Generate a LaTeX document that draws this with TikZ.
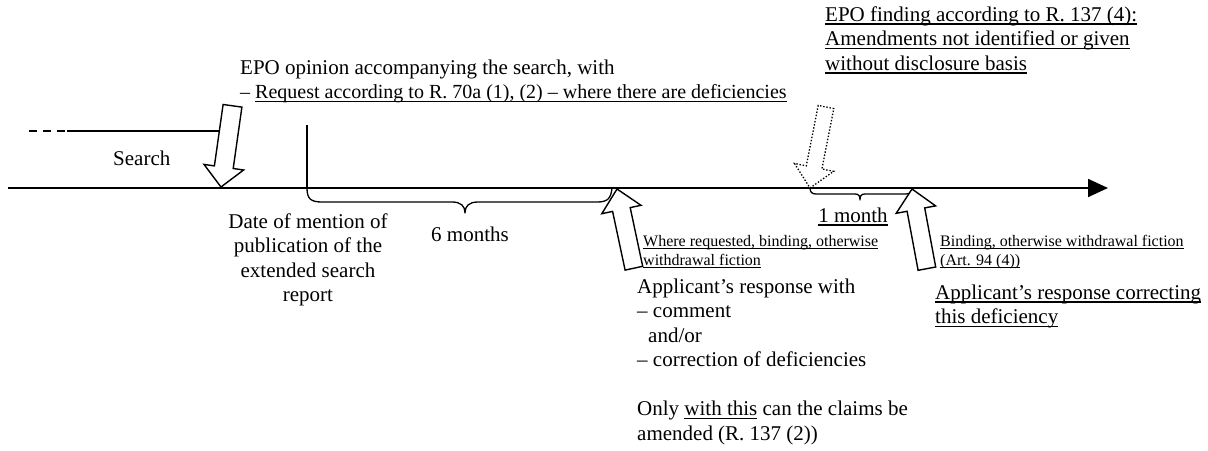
\documentclass[tikz,border=0pt]{standalone}
\usepackage{fontspec}
\setmainfont{Liberation Serif}
\newsavebox\myulbox
\newcommand\myul[1]{\leavevmode\sbox\myulbox{#1}\rlap{\rule[-0.17em]{\wd\myulbox}{0.06em}}\usebox\myulbox}
\usetikzlibrary{arrows.meta}
\tikzset{
  txt/.style={inner sep=0pt, anchor=base west, font=\fontsize{21}{24.5}\selectfont},
  smalltxt/.style={inner sep=0pt, anchor=base west, font=\fontsize{16}{19}\selectfont},
  blockarrow/.style={draw, fill=white, line width=1.4pt, line join=miter},
  dotarrow/.style={draw, fill=white, line width=1.3pt, dash pattern=on 1.4pt off 1.8pt},
  timeline/.style={line width=1.7pt},
  thinline/.style={line width=1.2pt},
  bracket/.style={line width=1.3pt, line join=round},
}
\begin{document}
\begin{tikzpicture}[x=1pt, y=-1pt]
\useasboundingbox (0,0) rectangle (1208,450);

% coordinates
\coordinate (tlstart) at (8,188);
\coordinate (tlmid) at (60,188);
\coordinate (tlend) at (1108,188);
\coordinate (dashA) at (29,131);
\coordinate (dashB) at (67,131);
\coordinate (srchEnd) at (226,131);
\coordinate (vtop) at (307,125);
\coordinate (vbot) at (307,188);

% timeline
\draw[thinline] (tlstart) -- (tlmid);
\draw[timeline, -{Triangle[length=20pt, width=18pt]}] (tlmid) -- (tlend);

% search band
\draw[thinline, dash pattern=on 8pt off 6pt] (dashA) -- (dashB);
\draw[thinline] (dashB) -- (srchEnd);
\draw[thinline] (vtop) -- (vbot);

% braces
\draw[bracket] (307,188) .. controls (307,199) and (311,202) .. (322,202) -- (452,202)
  .. controls (461,202) and (465,206) .. (465,213)
  .. controls (465,206) and (469,202) .. (478,202) -- (597,202)
  .. controls (607,202) and (611,199) .. (612,188);
\draw[bracket] (810,188) .. controls (810,192) and (812,194) .. (816,194) -- (855,194)
  .. controls (859,194) and (860,196) .. (860,200)
  .. controls (860,196) and (861,194) .. (865,194) -- (906,194)
  .. controls (910,194) and (912,192) .. (912,188);

% block arrows
\draw[blockarrow] (221,187) -- (243.6,170.0) -- (233.2,168.5) -- (241.9,107.1)
  -- (223.1,104.5) -- (214.4,165.9) -- (204.0,164.4) -- cycle;
\draw[blockarrow] (617,189) -- (641,205.3) -- (630.2,207.6) -- (642.7,266.3)
  -- (625.1,270.1) -- (612.6,211.4) -- (601.8,213.7) -- cycle;
\draw[blockarrow] (912,189) -- (935.6,205.9) -- (924.7,207.9) -- (935.7,267)
  -- (918.1,270.3) -- (907.1,211.3) -- (896.2,213.3) -- cycle;
\draw[dotarrow] (810,188) -- (833.7,171.3) -- (821.9,169) -- (833.8,108.6)
  -- (818.2,105.4) -- (806.3,165.8) -- (794.5,163.5) -- cycle;

% texts
\node[txt] (epoop) at (240,74) {EPO opinion accompanying the search, with};
\node[txt, font=\fontsize{20}{24.5}\selectfont] (req) at (240,98.5) {– \myul{Request according to R. 70a (1), (2) – where there are deficiencies}};
\node[txt] (finding) at (825,21) {\parbox[t]{380pt}{\myul{EPO finding according to R. 137 (4):}\\\myul{Amendments not identified or given}\\\myul{without disclosure basis}}};
\node[txt] (search) at (113,165) {Search};
\node[txt, anchor=base] (date) at (308,228) {\parbox[t]{200pt}{\centering Date of mention of\\publication of the\\extended search\\report}};
\node[txt, anchor=base] (sixm) at (470,241) {6 months};
\node[txt, anchor=base] (onem) at (853,222) {\myul{1 month}};
\node[smalltxt] (where) at (643,246.5) {\parbox[t]{260pt}{\myul{Where requested, binding, otherwise}\\\myul{withdrawal fiction}}};
\node[smalltxt] (binding) at (940,246.5) {\parbox[t]{260pt}{\myul{Binding, otherwise withdrawal fiction}\\\myul{(Art. 94 (4))}}};
\node[txt] (resp) at (637,293) {\parbox[t]{320pt}{Applicant’s response with\\– comment\\\hspace*{11pt}and/or\\– correction of deficiencies\\[24.5pt]Only \myul{with this} can the claims be\\amended (R. 137 (2))}};
\node[txt] (corr) at (935,299) {\parbox[t]{300pt}{\myul{Applicant’s response correcting}\\\myul{this deficiency}}};
\end{tikzpicture}
\end{document}
